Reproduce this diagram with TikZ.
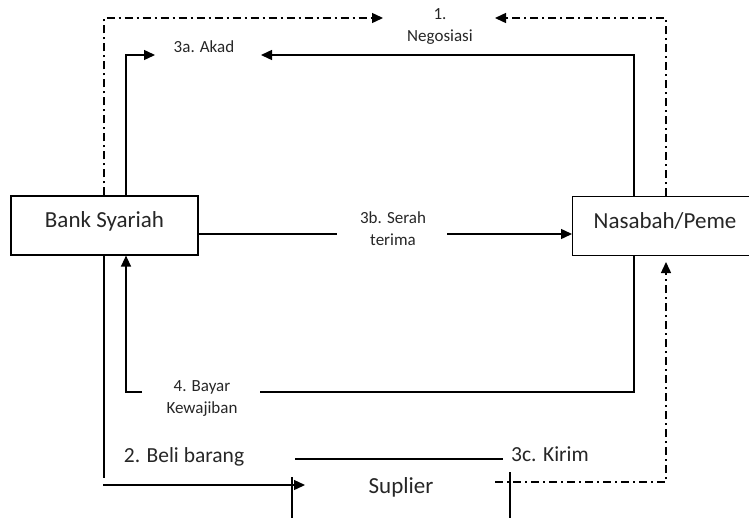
\documentclass[tikz,border=0pt]{standalone}
\usepackage{fontspec}
\setmainfont{Carlito}
\usetikzlibrary{arrows.meta}
\begin{document}
\begin{tikzpicture}[x=1pt,y=-1pt,
  box/.style={draw,line width=1.2pt,rectangle,inner sep=0pt},
  bigtxt/.style={font=\fontsize{23}{27}\selectfont,text=black!85},
  smalltxt/.style={font=\fontsize{17}{22}\selectfont,align=center,text=black!85,inner sep=0pt},
  midtxt/.style={font=\fontsize{21.5}{26}\selectfont,text=black!85,inner sep=0pt},
  conn/.style={line width=1.4pt},
  arr/.style={conn,-{Triangle[length=11pt,width=10pt]}},
  dd/.style={line width=1.4pt,dash pattern=on 8pt off 4pt on 2pt off 4pt},
  ddarr/.style={dd,-{Triangle[length=11pt,width=10pt]}}]
\useasboundingbox (0,0) rectangle (749,517);
% boxes
\node[box,minimum width=187pt,minimum height=59pt] (bank) at (104.5,225.5) {};
\node[bigtxt] (banktxt) at (104.5,221) {Bank Syariah};
\path[clip] (0,0) rectangle (749,517);
\node[box,minimum width=180pt,minimum height=59pt,anchor=north west] (nas) at (572,196) {};
\node[bigtxt] (nastxt) at (665,221) {Nasabah/Peme};
\node[bigtxt,inner sep=0pt] (sup) at (401,487) {Suplier};
% supplier box pieces
\coordinate (s1) at (295,459); \coordinate (s2) at (503,459);
\coordinate (s3) at (292,477); \coordinate (s4) at (292,520);
\coordinate (s5) at (510,472); \coordinate (s6) at (510,520);
\draw[conn] (s1) -- (s2);
\draw[conn] (s3) -- (s4);
\draw[conn] (s5) -- (s6);
% labels
\node[smalltxt] (neg) at (440,26.5) {1.\\Negosiasi};
\node[smalltxt] (akad) at (204,47) {3a. Akad};
\node[smalltxt] (serah) at (393,228.5) {3b. Serah\\terima};
\node[smalltxt] (bayar) at (202,398.5) {4. Bayar\\Kewajiban};
\node[midtxt] (beli) at (184,457) {2. Beli barang};
\node[midtxt] (kirim) at (550,454) {3c. Kirim};
% 1. negosiasi (dash-dot)
\coordinate (n1) at (104,18); \coordinate (n2) at (383,18);
\coordinate (n3) at (666,18); \coordinate (n4) at (495,18);
\draw[ddarr] (bank.north -| n1) -- (n1) -- (n2);
\draw[ddarr] (nas.north -| n3) -- (n3) -- (n4);
% 3a akad
\coordinate (a1) at (126,55); \coordinate (a2) at (155,55);
\coordinate (a3) at (634,55); \coordinate (a4) at (261,55);
\draw[arr] (bank.north -| a1) -- (a1) -- (a2);
\draw[arr] (nas.north -| a3) -- (a3) -- (a4);
% 3b serah terima
\coordinate (b1) at (337,234); \coordinate (b2) at (447,234);
\draw[conn] (bank.east |- b1) -- (b1);
\draw[arr] (b2) -- (nas.west |- b2);
% 4 bayar kewajiban
\coordinate (k1) at (634,392); \coordinate (k2) at (260,392);
\coordinate (k3) at (142,392); \coordinate (k4) at (126,392);
\draw[conn] (nas.south -| k1) -- (k1) -- (k2);
\draw[arr] (k3) -- (k4) -- (bank.south -| k4);
% 2 beli barang
\coordinate (g1) at (104,478); \coordinate (g2) at (103,485); \coordinate (g3) at (305,485);
\draw[conn] (bank.south -| g1) -- (g1);
\draw[arr] (g2) -- (g3);
% 3c kirim (dash-dot)
\coordinate (c1) at (495,482); \coordinate (c2) at (666,482); \coordinate (c3) at (666,262);
\draw[ddarr] (c1) -- (c2) -- (c3);
\end{tikzpicture}
\end{document}
